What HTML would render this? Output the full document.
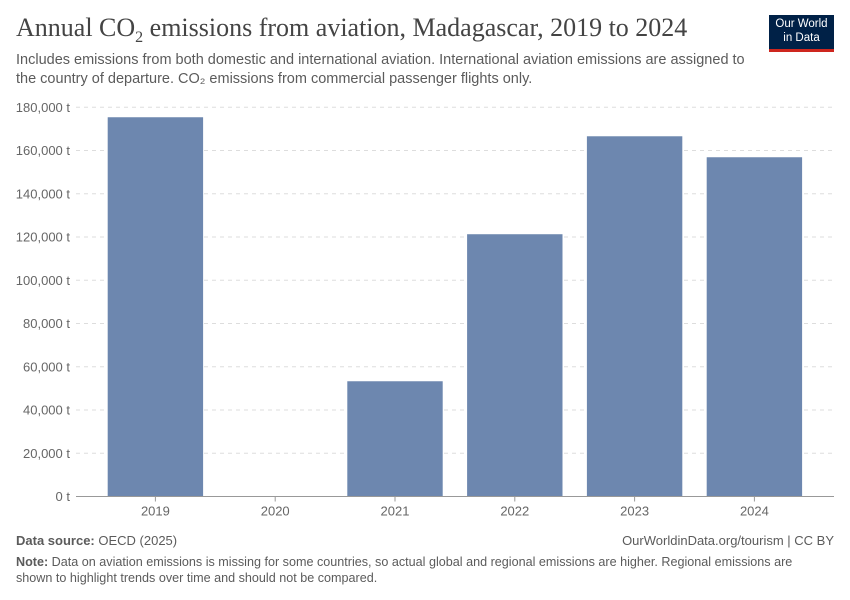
<!DOCTYPE html>
<html><head><meta charset="utf-8"><style>
body{margin:0;background:#fff;font-family:"Liberation Sans",sans-serif;}
#wrap{position:relative;width:850px;height:600px;overflow:hidden;}
.t{position:absolute;margin:0;}
</style></head><body>
<div id="wrap">
<div class="t" style="left:16px;top:13px;font-family:'Liberation Serif',serif;font-size:26px;color:#444;">Annual CO<sub style="font-size:16px;">2</sub> emissions from aviation, Madagascar, 2019 to 2024</div>
<div class="t" style="left:16px;top:51px;width:740px;font-size:14.5px;line-height:19px;color:#5b5b5b;">Includes emissions from both domestic and international aviation. International aviation emissions are assigned to the country of departure. CO₂ emissions from commercial passenger flights only.</div>
<div class="t" style="left:769px;top:15px;width:65px;height:37px;background:#002147;color:#fff;font-size:11.5px;line-height:14px;text-align:center;padding-top:2px;box-sizing:border-box;border-bottom:3px solid #ce261e;">Our World<br>in Data</div>
<svg id="chart" width="850" height="600" style="position:absolute;left:0;top:0;"></svg>
<div class="t" style="left:16px;top:533px;font-size:13px;color:#5b5b5b;"><b>Data source:</b> OECD (2025)</div>
<div class="t" style="right:16px;top:533px;font-size:13px;color:#5b5b5b;">OurWorldinData.org/tourism | CC BY</div>
<div class="t" style="left:16px;top:554px;width:800px;font-size:12.6px;line-height:16px;color:#5b5b5b;"><b>Note:</b> Data on aviation emissions is missing for some countries, so actual global and regional emissions are higher. Regional emissions are<br>shown to highlight trends over time and should not be compared.</div>
</div>
<script>
const years=["2019","2020","2021","2022","2023","2024"];
const values=[175400,null,53300,121300,166600,156900];
const ticks=[0,20000,40000,60000,80000,100000,120000,140000,160000,180000];
const tickLabels=["0 t","20,000 t","40,000 t","60,000 t","80,000 t","100,000 t","120,000 t","140,000 t","160,000 t","180,000 t"];
const NS="http://www.w3.org/2000/svg";
const svg=document.getElementById('chart');
const y0=496.5,y1=107.3,ymax=180000,xl=76,xr=834,px0=95.5,step=119.8;
const Y=v=>y0-(v/ymax)*(y0-y1);
const X=i=>px0+step*i+step/2;
function mk(tag,attrs){const e=document.createElementNS(NS,tag);for(const k in attrs)e.setAttribute(k,attrs[k]);svg.appendChild(e);return e;}
ticks.forEach((t,i)=>{
 if(t>0){const g=mk('line',{x1:xl,x2:xr,y1:Y(t),y2:Y(t),stroke:'#ddd','stroke-dasharray':'4,4'});
 
 }
 const tx=mk('text',{x:70,y:Y(t)+4.5,'text-anchor':'end','font-size':13,fill:'#666','font-family':'Liberation Sans,sans-serif'});
 tx.textContent=tickLabels[i];
 
 
});
values.forEach((v,i)=>{
 if(v!=null){const b=mk('rect',{x:X(i)-47.7,y:Y(v),width:95.4,height:y0-Y(v),fill:'#6d87af'});
 
 }
 const tk=mk('line',{x1:X(i),x2:X(i),y1:y0,y2:y0+5,stroke:'#999'});
 
 
 const tx=mk('text',{x:X(i),y:y0+19,'text-anchor':'middle','font-size':13,fill:'#666','font-family':'Liberation Sans,sans-serif'});
 tx.textContent=years[i];
 
 
});
const ax=mk('line',{x1:xl,x2:xr,y1:y0,y2:y0,stroke:'#999'});


</script>
</body></html>
